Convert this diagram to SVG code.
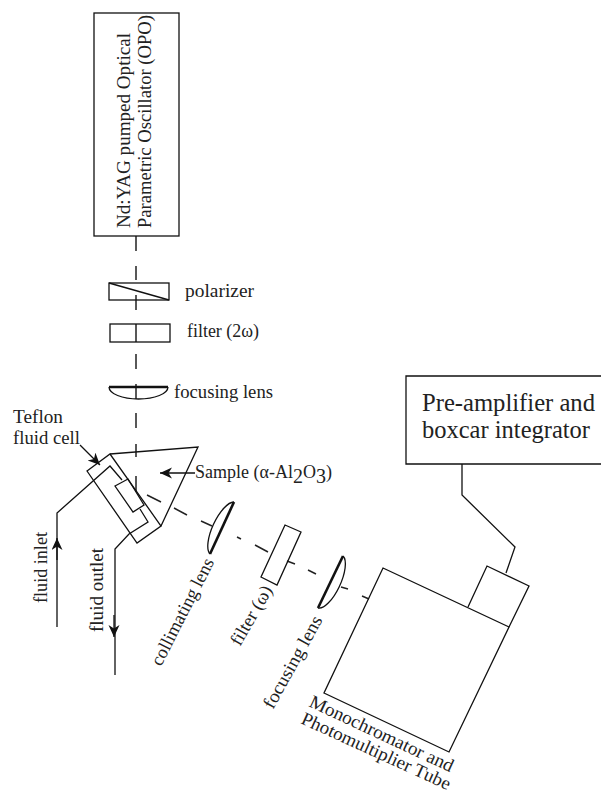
<svg xmlns="http://www.w3.org/2000/svg" width="601" height="793" viewBox="0 0 601 793">
<style>
.l{fill:none;stroke:#111;stroke-width:1.3}
.k{fill:none;stroke:#111;stroke-width:2.6}
.b{fill:none;stroke:#222;stroke-width:1.5}
text{font-family:"Liberation Serif","Times New Roman",serif;fill:#222;font-size:18.5px}
.big{font-size:25px}
.sub{font-size:20px}
.s{font-size:18px}
</style>
<defs>
<marker id="ah" markerUnits="userSpaceOnUse" markerWidth="14" markerHeight="12" refX="12" refY="5.5" orient="auto"><path d="M0 0L12 5.5L0 11L3.5 5.5Z" fill="#111"/></marker>
</defs>
<rect width="601" height="793" fill="#fff"/>
<g id="connectors">
<path class="b" d="M136 236V251M136 266V280M136 295V310M136 324V342M136 354V369M136 384V399M136 413V428M136 444V457M136 476V492M147 495L161 502M174 508L187 515M201 521L212 526M237 537L241 539M255 545L268 552M287 561L295 564M308 570L316 574M341 587L348 589M362 596L369 599"/>
<path class="l" d="M57 627V513L110 466L122 480"/>
<path class="l" d="M140 509L148 522L129 534L115 549V675"/>
<path class="l" d="M462 464V495L515 547L506 573"/>
<path class="l" d="M57 560V538" marker-end="url(#ah)"/>
<path class="l" d="M114 615V637" marker-end="url(#ah)"/>
<path class="l" d="M80 445L100 465" marker-end="url(#ah)" stroke-width="1"/>
<path class="l" d="M195 473H160" marker-end="url(#ah)"/>
</g>
<g id="opo"><rect class="l" x="94" y="13" width="85" height="223"/>
<text transform="translate(130 228) rotate(-90)" textLength="195" lengthAdjust="spacingAndGlyphs">Nd:YAG pumped Optical</text>
<text transform="translate(151 228) rotate(-90)" textLength="213" lengthAdjust="spacingAndGlyphs">Parametric Oscillator (OPO)</text></g>
<g id="polarizer"><rect class="l" x="109" y="283" width="60" height="17"/><path class="l" d="M109 283L169 300"/>
<text x="185" y="297" textLength="69" lengthAdjust="spacingAndGlyphs">polarizer</text></g>
<g id="filter2w"><rect class="l" x="110" y="324" width="60" height="18"/>
<text x="187" y="337" textLength="72" lengthAdjust="spacingAndGlyphs">filter (2ω)</text></g>
<g id="lens1"><path class="k" d="M109 387H168"/><path class="l" d="M168 387A29.5 12 0 0 1 109 387"/>
<text x="174" y="398" textLength="99" lengthAdjust="spacingAndGlyphs">focusing lens</text></g>
<g id="cell"><path class="l" d="M87 471L110 454L161 526L137 543Z"/><path class="l" d="M115 486L128 479L144 505L133 512Z"/>
<text class="s" x="13" y="423" textLength="50" lengthAdjust="spacingAndGlyphs">Teflon</text>
<text class="s" x="13" y="444" textLength="67" lengthAdjust="spacingAndGlyphs">fluid cell</text></g>
<g id="sample"><path class="l" d="M110 454L198 447L161 526"/>
<text class="s" x="195" y="478">Sample (α-Al<tspan class="sub" dy="5">2</tspan><tspan dy="-5">O</tspan><tspan class="sub" dy="5">3</tspan><tspan dy="-5">)</tspan></text></g>
<g id="inlet"><text transform="translate(47 603) rotate(-90)" textLength="71" lengthAdjust="spacingAndGlyphs">fluid inlet</text></g>
<g id="outlet"><text transform="translate(103 632) rotate(-90)" textLength="84" lengthAdjust="spacingAndGlyphs">fluid outlet</text></g>
<g id="lens2"><path class="k" d="M234 502L210 554"/><path class="l" d="M234 502A29 11 115 0 0 210 554"/>
<text transform="translate(161 667) rotate(-63)" textLength="118" lengthAdjust="spacingAndGlyphs">collimating lens</text></g>
<g id="filterw"><path class="l" d="M285 525L301 532L277 585L261 577Z"/>
<text transform="translate(240 647) rotate(-60)" textLength="66" lengthAdjust="spacingAndGlyphs">filter (ω)</text></g>
<g id="lens3"><path class="k" d="M343 556L318 608"/><path class="l" d="M343 556A29 11 115 0 1 318 608"/>
<text transform="translate(273 710) rotate(-61)" textLength="103" lengthAdjust="spacingAndGlyphs">focusing lens</text></g>
<g id="mono"><path class="l" d="M383 568L509 627L449 752L324 693Z"/>
<text transform="translate(308 706) rotate(25)" textLength="157" lengthAdjust="spacingAndGlyphs">Monochromator and</text>
<text transform="translate(300 723) rotate(24.5)" textLength="162" lengthAdjust="spacingAndGlyphs">Photomultiplier Tube</text></g>
<g id="pmt"><path class="l" d="M468 607L487 566L529 586L509 627"/></g>
<g id="boxcar"><path class="l" d="M601 376H406V464H601" stroke-width="1.6"/>
<text class="big" x="422" y="411" textLength="173" lengthAdjust="spacingAndGlyphs">Pre-amplifier and</text>
<text class="big" x="422" y="438" textLength="168" lengthAdjust="spacingAndGlyphs">boxcar integrator</text></g>
</svg>
